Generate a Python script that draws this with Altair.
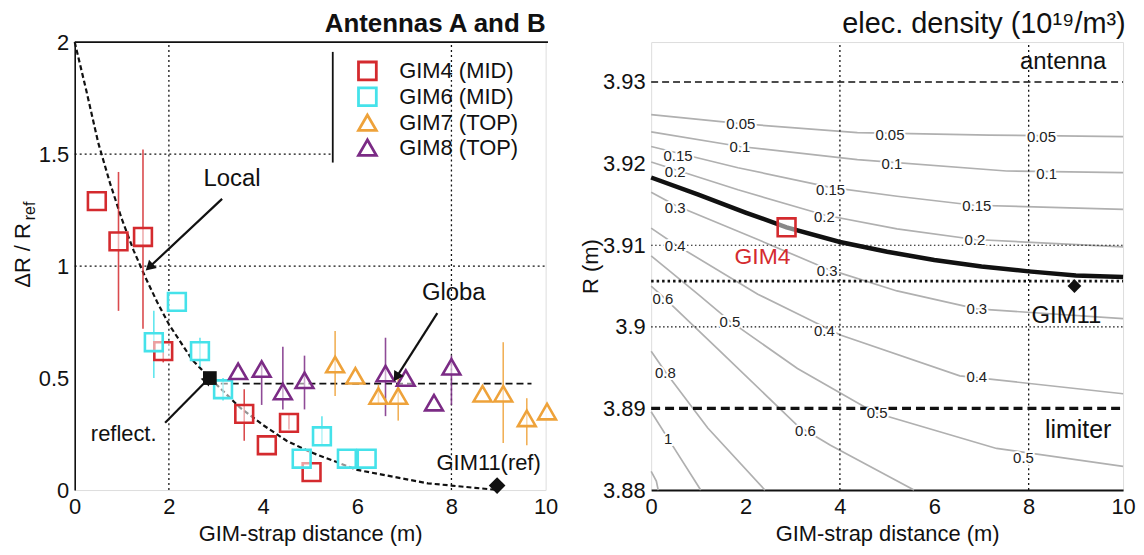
import altair as alt
import pandas as pd

FONT = "Liberation Sans"
INK = "#111111"

# ---------------- left panel data ----------------
series_names = ["GIM4 (MID)", "GIM6 (MID)", "GIM7 (TOP)", "GIM8 (TOP)"]
series_colors = ["#d42a2e", "#45e2ea", "#eea23a", "#7b2b85"]
series_shapes = ["square", "square", "triangle-up", "triangle-up"]
series_sizes = [320, 320, 470, 470]

gim4_x = [0.47, 0.93, 1.45, 1.88, 3.60, 4.08, 4.55, 5.03]
gim4_y = [1.29, 1.11, 1.13, 0.62, 0.34, 0.20, 0.30, 0.08]
gim4_lo = [1.29, 0.80, 0.72, 0.57, 0.22, 0.20, 0.27, 0.08]
gim4_hi = [1.29, 1.42, 1.52, 0.68, 0.45, 0.20, 0.34, 0.08]

gim6_x = [1.68, 2.17, 2.66, 3.15, 4.82, 5.25, 5.78, 6.20]
gim6_y = [0.66, 0.84, 0.62, 0.45, 0.14, 0.24, 0.14, 0.14]
gim6_lo = [0.50, 0.84, 0.55, 0.40, 0.14, 0.20, 0.14, 0.14]
gim6_hi = [0.80, 0.84, 0.68, 0.50, 0.14, 0.33, 0.14, 0.14]

gim7_x = [5.53, 5.96, 6.45, 6.87, 8.66, 9.10, 9.60, 10.03]
gim7_y = [0.56, 0.51, 0.42, 0.42, 0.43, 0.43, 0.32, 0.35]
gim7_lo = [0.42, 0.51, 0.38, 0.31, 0.43, 0.21, 0.20, 0.35]
gim7_hi = [0.71, 0.51, 0.47, 0.50, 0.43, 0.66, 0.41, 0.35]

gim8_x = [3.47, 3.97, 4.42, 4.88, 6.60, 7.03, 7.63, 8.00]
gim8_y = [0.53, 0.54, 0.44, 0.49, 0.52, 0.50, 0.39, 0.55]
gim8_lo = [0.53, 0.38, 0.36, 0.36, 0.33, 0.50, 0.39, 0.38]
gim8_hi = [0.53, 0.57, 0.64, 0.60, 0.68, 0.50, 0.39, 0.60]

fit_x = [0, 0.25, 0.5, 0.75, 1.0, 1.25, 1.5, 1.75, 2.0, 2.5, 2.87, 3.5, 4.0, 4.5, 5.0, 5.5, 6.0, 6.5, 7.0, 7.5, 8.0, 8.5, 9.0]
fit_y = [2.0, 1.78, 1.55, 1.37, 1.21, 1.07, 0.95, 0.84, 0.74, 0.58, 0.50, 0.37, 0.29, 0.22, 0.17, 0.13, 0.09, 0.07, 0.05, 0.03, 0.02, 0.01, 0.0]

global_x = [2.87, 9.70]
global_y = [0.475, 0.475]

ref_sq_x, ref_sq_y = [2.87], [0.50]
ref_dm_x, ref_dm_y = [8.97], [0.02]

arrow_tail_x = [3.13, 1.92, 7.70]
arrow_tail_y = [1.30, 0.30, 0.79]
arrow_head_x = [1.61, 2.81, 6.85]
arrow_head_y = [1.00, 0.49, 0.51]
arrow_angle = [227, 44, 212]

ann_text = ["Local", "reflect.", "Globa", "GIM11(ref)"]
ann_x = [3.34, 1.04, 8.05, 8.79]
ann_y = [1.39, 0.25, 0.88, 0.12]
ann_size = [24, 22, 24, 22]

# ---------------- right panel data ----------------
contours = {
    "0.05": ([0, 1.90, 4.37, 7.17, 10], [3.9260, 3.9249, 3.9238, 3.9235, 3.9233]),
    "0.1": ([0, 1.88, 4.37, 7.53, 10], [3.9239, 3.9221, 3.9205, 3.9191, 3.9189]),
    "0.15": ([0, 1.84, 3.80, 5.21, 6.84, 10], [3.9221, 3.9195, 3.9171, 3.9160, 3.9149, 3.9144]),
    "0.2": ([0, 1.84, 3.67, 5.21, 6.86, 10], [3.9202, 3.9168, 3.9137, 3.9120, 3.9107, 3.9098]),
    "0.3": ([0, 0.51, 2.26, 3.73, 5.21, 6.90, 10], [3.9165, 3.9149, 3.9107, 3.9071, 3.9044, 3.9022, 3.9010]),
    "0.4": ([0, 0.51, 2.26, 3.21, 4.01, 6.54, 10], [3.9121, 3.9101, 3.9040, 3.9013, 3.8990, 3.8940, 3.8918]),
    "0.5": ([0, 0.99, 1.67, 3.10, 4.73, 7.32, 10], [3.9087, 3.9040, 3.9007, 3.8949, 3.8895, 3.8851, 3.8829]),
    "0.6": ([0, 0.25, 1.41, 3.10, 3.80, 5.57], [3.9050, 3.9037, 3.8973, 3.8879, 3.8855, 3.8800]),
    "0.8": ([0, 0.30, 1.20, 2.41], [3.8970, 3.8945, 3.8876, 3.8800]),
    "1": ([0, 0.36, 1.05], [3.8896, 3.8863, 3.8800]),
    "1.5": ([0, 0.11, 0.15], [3.8823, 3.8811, 3.8800]),
}

clab_t = ["0.05", "0.05", "0.05", "0.1", "0.1", "0.1", "0.15", "0.15", "0.15", "0.2", "0.2", "0.2",
          "0.3", "0.3", "0.3", "0.4", "0.4", "0.4", "0.5", "0.5", "0.5", "0.6", "0.6", "0.8", "1"]
clab_x = [1.90, 5.06, 8.27, 1.88, 5.10, 8.38, 0.57, 3.80, 6.90, 0.51, 3.67, 6.86,
          0.51, 3.73, 6.90, 0.51, 3.67, 6.90, 1.67, 4.79, 7.89, 0.25, 3.27, 0.30, 0.36]
clab_r = [3.9248, 3.9235, 3.9233, 3.9220, 3.9199, 3.9187, 3.9209, 3.9168, 3.9148, 3.9190, 3.9134, 3.9107,
          3.9145, 3.9068, 3.9022, 3.9099, 3.8995, 3.8939, 3.9006, 3.8894, 3.8839, 3.9034, 3.8872, 3.8943, 3.8863]

rcurve_x = [0, 1, 2, 2.87, 4, 5, 6, 7, 8, 9, 10]
rcurve_r = [3.9183, 3.9162, 3.9140, 3.9122, 3.9104, 3.9092, 3.9082, 3.9074, 3.9068, 3.9063, 3.9061]

gim4_pos_x, gim4_pos_r = [2.87], [3.9122]
gim11_pos_x, gim11_pos_r = [8.97], [3.9050]

antenna_r = 3.93
limiter_r = 3.89
reflect_r = 3.9056

rtext = ["antenna", "limiter", "GIM11", "GIM4"]
rtext_x = [8.73, 9.05, 8.80, 2.36]
rtext_r = [3.9324, 3.8873, 3.9013, 3.9085]
rtext_size = [24, 25, 24, 23]
rtext_color = [INK, INK, INK, "#d42a2e"]

# ---------------- build tables ----------------
series_data = [
    (gim4_x, gim4_y, gim4_lo, gim4_hi),
    (gim6_x, gim6_y, gim6_lo, gim6_hi),
    (gim7_x, gim7_y, gim7_lo, gim7_hi),
    (gim8_x, gim8_y, gim8_lo, gim8_hi),
]
rows = []
for name, (xs, ys, los, his) in zip(series_names, series_data):
    for a, b, c, d in zip(xs, ys, los, his):
        rows.append({"series": name, "x": a, "y": b, "lo": c, "hi": d})
pts = pd.DataFrame(rows)

fit_df = pd.DataFrame({"x": fit_x, "y": fit_y})
glob_df = pd.DataFrame({"x": global_x, "y": global_y})
arrows = pd.DataFrame({"x": arrow_tail_x, "y": arrow_tail_y, "x2": arrow_head_x,
                       "y2": arrow_head_y, "ang": arrow_angle})

crow = []
for lev, (xs, rs) in contours.items():
    for i, (a, b) in enumerate(zip(xs, rs)):
        crow.append({"lev": lev, "i": i, "x": a, "r": b})
cdf = pd.DataFrame(crow)
clab = pd.DataFrame({"t": clab_t, "x": clab_x, "r": clab_r})
rcurve = pd.DataFrame({"x": rcurve_x, "r": rcurve_r})

# ---------------- scales / axes ----------------
SXL = alt.Scale(domain=[0, 10], nice=False, zero=False)
SYL = alt.Scale(domain=[0, 2], nice=False, zero=False)
SXR = alt.Scale(domain=[0, 10], nice=False, zero=False)
SYR = alt.Scale(domain=[3.88, 3.9349], nice=False, zero=False)

AX_X_L = alt.Axis(values=[0, 2, 4, 6, 8, 10], title="GIM-strap distance (m)", grid=False, ticks=False,
                  domain=False, labelFlush=False, labelFontSize=22, labelFont=FONT, labelColor=INK,
                  labelPadding=7, titleFontSize=22, titleFont=FONT, titleFontWeight="normal",
                  titleColor=INK, titlePadding=6)
AX_Y_L = alt.Axis(values=[0, 0.5, 1, 1.5, 2], labelExpr="datum.value", title=None, grid=False, ticks=False,
                  domain=True, domainColor=INK, domainWidth=1.6, labelFontSize=22, labelFont=FONT,
                  labelColor=INK, labelPadding=6)
AX_X_R = alt.Axis(values=[0, 2, 4, 6, 8, 10], title="GIM-strap distance (m)", grid=False, ticks=False,
                  domain=True, domainColor=INK, domainWidth=2, labelFlush=False, labelFontSize=22,
                  labelFont=FONT, labelColor=INK, labelPadding=7, titleFontSize=22, titleFont=FONT,
                  titleFontWeight="normal", titleColor=INK, titlePadding=6)
AX_Y_R = alt.Axis(values=[3.88, 3.89, 3.9, 3.91, 3.92, 3.93], labelExpr="datum.value", title="R (m)",
                  grid=False, ticks=False, domain=False, labelFontSize=22, labelFont=FONT, labelColor=INK,
                  labelPadding=6, titleFontSize=22, titleFont=FONT, titleFontWeight="normal",
                  titleColor=INK, titlePadding=0)


def LX(f):
    return alt.X(f"{f}:Q", scale=SXL, axis=AX_X_L)


def LY(f):
    return alt.Y(f"{f}:Q", scale=SYL, axis=AX_Y_L)


def RX(f):
    return alt.X(f"{f}:Q", scale=SXR, axis=AX_X_R)


def RY(f):
    return alt.Y(f"{f}:Q", scale=SYR, axis=AX_Y_R)


W, H = 473, 450

# ---------------- left panel ----------------
vgrid_l = alt.Chart(pd.DataFrame({"x": [2, 8], "y": [0, 0], "y2": [2, 2]})).mark_rule(
    color=INK, strokeWidth=1.3, strokeDash=[2, 3]).encode(x=LX("x"), y=LY("y"), y2="y2:Q")
hgrid_l = alt.Chart(pd.DataFrame({"y": [1.5, 1.0], "x": [0, 0], "x2": [5.48, 10]})).mark_rule(
    color=INK, strokeWidth=1.3, strokeDash=[2, 3]).encode(y=LY("y"), x=LX("x"), x2="x2:Q")
top_line = alt.Chart(pd.DataFrame({"y": [2.0], "x": [0], "x2": [10.05]})).mark_rule(
    color=INK, strokeWidth=1.8).encode(y=LY("y"), x=LX("x"), x2="x2:Q")
leg_line = alt.Chart(pd.DataFrame({"x": [5.48], "y": [1.462], "y2": [1.956]})).mark_rule(
    color=INK, strokeWidth=1.8).encode(x=LX("x"), y=LY("y"), y2="y2:Q")

fit_line = alt.Chart(fit_df).mark_line(color=INK, strokeWidth=2.2, strokeDash=[5, 3]).encode(
    x=LX("x"), y=LY("y"))
glob_line = alt.Chart(glob_df).mark_line(color=INK, strokeWidth=1.6, strokeDash=[7, 4]).encode(
    x=LX("x"), y=LY("y"))

err_layers = []
for name, col in zip(series_names, series_colors):
    sub = pts[(pts["series"] == name) & (pts["hi"] > pts["lo"])]
    err_layers.append(alt.Chart(sub).mark_rule(strokeWidth=1.6, opacity=0.85, color=col).encode(
        x=LX("x"), y=LY("lo"), y2="hi:Q"))

legend = alt.Legend(title=None, orient="none", legendX=283, legendY=18, labelFontSize=22, labelFont=FONT,
                    labelColor=INK, symbolSize=250, symbolStrokeWidth=2.8, rowPadding=-4, labelOffset=21,
                    symbolFillColor="white", padding=0)
points = alt.Chart(pts).mark_point(filled=False, fill="white", fillOpacity=0.55, strokeWidth=2.6).encode(
    x=LX("x"), y=LY("y"),
    color=alt.Color("series:N", scale=alt.Scale(domain=series_names, range=series_colors), legend=legend),
    shape=alt.Shape("series:N", scale=alt.Scale(domain=series_names, range=series_shapes), legend=legend),
    size=alt.Size("series:N", scale=alt.Scale(domain=series_names, range=series_sizes), legend=None),
)

ref_sq = alt.Chart(pd.DataFrame({"x": ref_sq_x, "y": ref_sq_y})).mark_point(
    shape="square", filled=True, color=INK, size=190, opacity=1).encode(x=LX("x"), y=LY("y"))
ref_dm = alt.Chart(pd.DataFrame({"x": ref_dm_x, "y": ref_dm_y})).mark_point(
    shape="diamond", filled=True, color=INK, size=280, opacity=1).encode(x=LX("x"), y=LY("y"))

arrow_shaft = alt.Chart(arrows).mark_rule(color=INK, strokeWidth=2.2).encode(
    x=LX("x"), y=LY("y"), x2="x2:Q", y2="y2:Q")
arrow_head = alt.Chart(arrows).mark_point(shape="triangle", filled=True, color=INK, size=130, opacity=1).encode(
    x=LX("x2"), y=LY("y2"), angle=alt.Angle("ang:Q", scale=None))

ann_layers = []
for t, x, y, s in zip(ann_text, ann_x, ann_y, ann_size):
    ann_layers.append(alt.Chart(pd.DataFrame({"t": [t], "x": [x], "y": [y]})).mark_text(
        font=FONT, color=INK, fontSize=s).encode(x=LX("x"), y=LY("y"), text="t:N"))

title_l = alt.Chart(pd.DataFrame({"t": ["Antennas A and B"], "x": [10.0], "y": [2.08]})).mark_text(
    font=FONT, fontSize=26, color=INK, fontWeight="bold", align="right").encode(
    x=LX("x"), y=LY("y"), text="t:N")

ytitle_main = alt.Chart(pd.DataFrame({"t": ["\u0394R / R"]})).mark_text(
    font=FONT, fontSize=22, color=INK, angle=270, align="right", baseline="middle").encode(
    x=alt.value(-52), y=alt.value(182), text="t:N")
ytitle_sub = alt.Chart(pd.DataFrame({"t": ["ref"]})).mark_text(
    font=FONT, fontSize=16, color=INK, angle=270, align="left", baseline="middle").encode(
    x=alt.value(-45), y=alt.value(179), text="t:N")

left = alt.layer(
    vgrid_l, hgrid_l, top_line, leg_line, fit_line, glob_line, *err_layers, points,
    ref_sq, ref_dm, arrow_shaft, arrow_head, *ann_layers, title_l, ytitle_main, ytitle_sub,
).properties(width=W, height=H)

# ---------------- right panel ----------------
vgrid_r = alt.Chart(pd.DataFrame({"x": [4, 8], "y": [3.88, 3.88], "y2": [3.9349, 3.9349]})).mark_rule(
    color=INK, strokeWidth=1.3, strokeDash=[2, 3]).encode(x=RX("x"), y=RY("y"), y2="y2:Q")
hgrid_r = alt.Chart(pd.DataFrame({"y": [3.90, 3.91], "x": [0, 0], "x2": [10, 10]})).mark_rule(
    color=INK, strokeWidth=1.1, strokeDash=[1.5, 2.5]).encode(y=RY("y"), x=RX("x"), x2="x2:Q")
reflect_line = alt.Chart(pd.DataFrame({"y": [reflect_r], "x": [0], "x2": [10]})).mark_rule(
    color=INK, strokeWidth=2.6, strokeDash=[2.5, 3]).encode(y=RY("y"), x=RX("x"), x2="x2:Q")
antenna_line = alt.Chart(pd.DataFrame({"y": [antenna_r], "x": [0], "x2": [10]})).mark_rule(
    color=INK, strokeWidth=1.4, strokeDash=[7, 4]).encode(y=RY("y"), x=RX("x"), x2="x2:Q")
limiter_line = alt.Chart(pd.DataFrame({"y": [limiter_r], "x": [0], "x2": [10]})).mark_rule(
    color=INK, strokeWidth=3.2, strokeDash=[9, 5]).encode(y=RY("y"), x=RX("x"), x2="x2:Q")

contour_lines = alt.Chart(cdf).mark_line(color="#b0b0b0", strokeWidth=1.7).encode(
    x=RX("x"), y=RY("r"), detail="lev:N", order="i:Q")
clab_halo = alt.Chart(clab).mark_text(font=FONT, fontSize=15, color="white", stroke="white",
                                       strokeWidth=4).encode(x=RX("x"), y=RY("r"), text="t:N")
clab_text = alt.Chart(clab).mark_text(font=FONT, fontSize=15, color="#222222").encode(
    x=RX("x"), y=RY("r"), text="t:N")

rline = alt.Chart(rcurve).mark_line(color=INK, strokeWidth=4.5).encode(x=RX("x"), y=RY("r"))
gim4_mk = alt.Chart(pd.DataFrame({"x": gim4_pos_x, "r": gim4_pos_r})).mark_point(
    shape="square", filled=False, fill="white", fillOpacity=0.5, color="#d42a2e", size=320,
    strokeWidth=2.6).encode(x=RX("x"), y=RY("r"))
gim11_mk = alt.Chart(pd.DataFrame({"x": gim11_pos_x, "r": gim11_pos_r})).mark_point(
    shape="diamond", filled=True, color=INK, size=190, opacity=1).encode(x=RX("x"), y=RY("r"))

r_text_layers = []
for t, x, r, s, c in zip(rtext, rtext_x, rtext_r, rtext_size, rtext_color):
    r_text_layers.append(alt.Chart(pd.DataFrame({"t": [t], "x": [x], "r": [r]})).mark_text(
        font=FONT, color=c, fontSize=s).encode(x=RX("x"), y=RY("r"), text="t:N"))

title_r = alt.Chart(pd.DataFrame({"t": ["elec. density (10\u00b9\u2079/m\u00b3)"], "x": [4.05],
                                  "r": [3.93715]})).mark_text(
    font=FONT, fontSize=29, color=INK, align="left").encode(x=RX("x"), y=RY("r"), text="t:N")

right = alt.layer(
    contour_lines, vgrid_r, hgrid_r, reflect_line, antenna_line, limiter_line,
    clab_halo, clab_text, rline, gim4_mk, gim11_mk, *r_text_layers, title_r,
).properties(width=474, height=H)

chart = alt.hconcat(left, right, spacing=106, bounds="flush").properties(
    padding={"left": 3, "top": 0, "right": 0, "bottom": 0}
).configure_view(stroke=None).configure(background="white")

chart.save("out.html", embed_options={"renderer": "svg", "actions": False})
